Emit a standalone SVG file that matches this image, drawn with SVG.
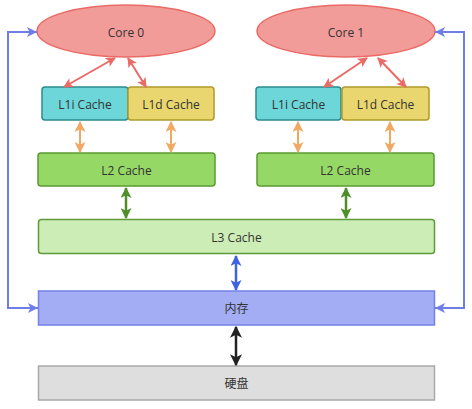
<svg xmlns="http://www.w3.org/2000/svg" width="472" height="409" viewBox="0 0 472 409">
<style>
text{font-family:"Open Sans","Noto Sans","Noto Sans CJK SC",sans-serif;font-size:12px;fill:#333;text-anchor:middle;dominant-baseline:central}
.core{fill:#f19c99;stroke:#ea6b66;stroke-width:1.5}
.l1i{fill:#6cd6d9;stroke:#2a8c90;stroke-width:1.5}
.l1d{fill:#ead66e;stroke:#b09a2a;stroke-width:1.5}
.l2{fill:#96d866;stroke:#5a9a30;stroke-width:1.5}
.l3{fill:#cdedb6;stroke:#5e9a38;stroke-width:1.5}
.mem{fill:#a3adf3;stroke:#7382e8;stroke-width:1.5}
.disk{fill:#dedede;stroke:#a8a8a8;stroke-width:1.5}
.c{fill:none}
</style>
<defs>
<marker id="mr" viewBox="0 0 10 10" refX="9" refY="5" markerWidth="11" markerHeight="10" markerUnits="userSpaceOnUse" orient="auto-start-reverse"><path d="M0,0 L10,5 L0,10 L2.5,5 z" fill="#ea6b66"/></marker>
<marker id="mo" viewBox="0 0 10 10" refX="9" refY="5" markerWidth="11" markerHeight="11" markerUnits="userSpaceOnUse" orient="auto-start-reverse"><path d="M0,0 L10,5 L0,10 L2.5,5 z" fill="#f0a862"/></marker>
<marker id="mg" viewBox="0 0 10 10" refX="9" refY="5" markerWidth="12" markerHeight="11" markerUnits="userSpaceOnUse" orient="auto-start-reverse"><path d="M0,0 L10,5 L0,10 L2.5,5 z" fill="#4f8f2a"/></marker>
<marker id="mb" viewBox="0 0 10 10" refX="9" refY="5" markerWidth="12" markerHeight="11" markerUnits="userSpaceOnUse" orient="auto-start-reverse"><path d="M0,0 L10,5 L0,10 L2.5,5 z" fill="#3f62e2"/></marker>
<marker id="mk" viewBox="0 0 10 10" refX="9" refY="5" markerWidth="13" markerHeight="12" markerUnits="userSpaceOnUse" orient="auto-start-reverse"><path d="M0,0 L10,5 L0,10 L2.5,5 z" fill="#222"/></marker>
<marker id="ml" viewBox="0 0 10 10" refX="10" refY="5" markerWidth="12" markerHeight="10" markerUnits="userSpaceOnUse" orient="auto-start-reverse"><path d="M0,0 L10,5 L0,10 L2.5,5 z" fill="#6f7de6"/></marker>
</defs>
<g id="core0"><ellipse class="core" cx="126" cy="31" rx="89" ry="26"/><text x="126" y="32">Core 0</text></g>
<g id="core1"><ellipse class="core" cx="346" cy="31" rx="89" ry="26"/><text x="346" y="32">Core 1</text></g>
<g id="l1i0"><rect class="l1i" x="42" y="87" width="86" height="33" rx="3"/><text x="85" y="104">L1i Cache</text></g>
<g id="l1d0"><rect class="l1d" x="128" y="87" width="86" height="33" rx="3"/><text x="171" y="104">L1d Cache</text></g>
<g id="l1i1"><rect class="l1i" x="256" y="87" width="85" height="33" rx="3"/><text x="298.5" y="104">L1i Cache</text></g>
<g id="l1d1"><rect class="l1d" x="342" y="87" width="87" height="33" rx="3"/><text x="385.5" y="104">L1d Cache</text></g>
<g id="l2c0"><rect class="l2" x="38" y="153" width="177" height="33" rx="3"/><text x="126.5" y="170">L2 Cache</text></g>
<g id="l2c1"><rect class="l2" x="257" y="153" width="177" height="33" rx="3"/><text x="345.5" y="170">L2 Cache</text></g>
<g id="l3"><rect class="l3" x="38.5" y="219.5" width="396" height="34" rx="3"/><text x="236.5" y="237">L3 Cache</text></g>
<g id="mem"><rect class="mem" x="38.5" y="291" width="396" height="34"/><text x="236.5" y="308">内存</text></g>
<g id="disk"><rect class="disk" x="38.5" y="366" width="396" height="34"/><text x="236.5" y="383">硬盘</text></g>
<g id="connectors">
<path class="c" d="M115,58 L64,87" stroke="#ea6b66" stroke-width="2" marker-start="url(#mr)" marker-end="url(#mr)"/>
<path class="c" d="M128,58 L146,87" stroke="#ea6b66" stroke-width="2" marker-start="url(#mr)" marker-end="url(#mr)"/>
<path class="c" d="M367,58 L324,87" stroke="#ea6b66" stroke-width="2" marker-start="url(#mr)" marker-end="url(#mr)"/>
<path class="c" d="M378,58 L406,87" stroke="#ea6b66" stroke-width="2" marker-start="url(#mr)" marker-end="url(#mr)"/>
<path class="c" d="M80,122 L80,152" stroke="#f0a862" stroke-width="2" marker-start="url(#mo)" marker-end="url(#mo)"/>
<path class="c" d="M171,122 L171,152" stroke="#f0a862" stroke-width="2" marker-start="url(#mo)" marker-end="url(#mo)"/>
<path class="c" d="M298,122 L298,152" stroke="#f0a862" stroke-width="2" marker-start="url(#mo)" marker-end="url(#mo)"/>
<path class="c" d="M390,122 L390,152" stroke="#f0a862" stroke-width="2" marker-start="url(#mo)" marker-end="url(#mo)"/>
<path class="c" d="M126,188 L126,218" stroke="#4f8f2a" stroke-width="2.5" marker-start="url(#mg)" marker-end="url(#mg)"/>
<path class="c" d="M346,188 L346,218" stroke="#4f8f2a" stroke-width="2.5" marker-start="url(#mg)" marker-end="url(#mg)"/>
<path class="c" d="M236,256 L236,290" stroke="#3f62e2" stroke-width="2.5" marker-start="url(#mb)" marker-end="url(#mb)"/>
<path class="c" d="M236,327 L236,365" stroke="#222" stroke-width="2.5" marker-start="url(#mk)" marker-end="url(#mk)"/>
<path class="c" d="M37,32 L8,32 L8,308 L38,308" stroke="#6f7de6" stroke-width="2" marker-start="url(#ml)" marker-end="url(#ml)"/>
<path class="c" d="M435,32 L464,32 L464,308 L435,308" stroke="#6f7de6" stroke-width="2" marker-start="url(#ml)" marker-end="url(#ml)"/>
</g>
</svg>
